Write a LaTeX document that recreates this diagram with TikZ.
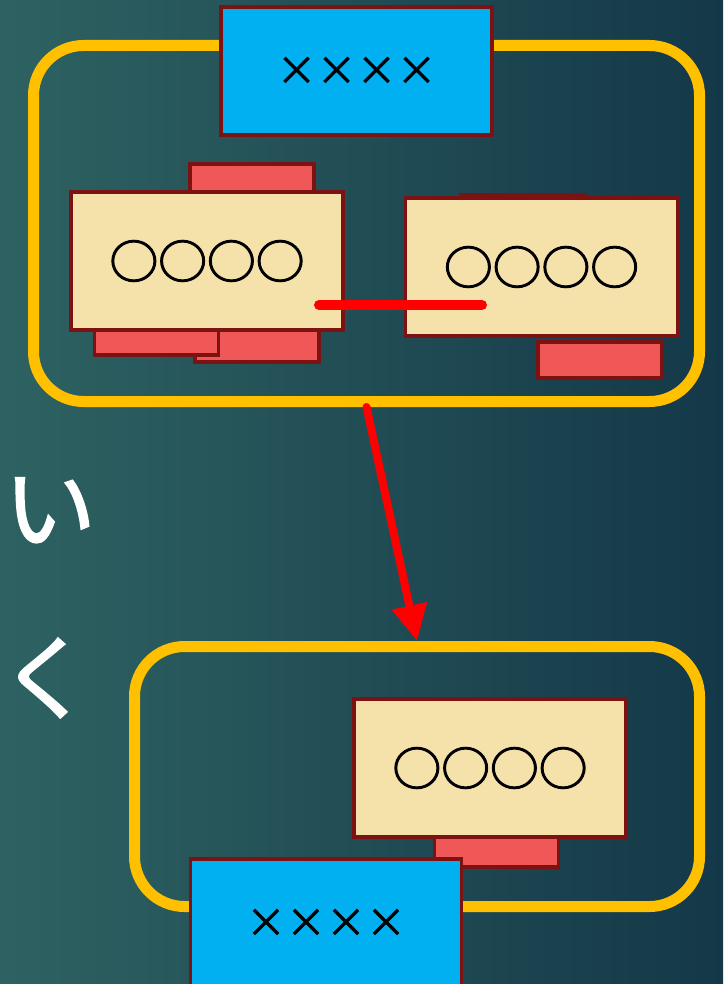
\documentclass[tikz,border=0pt]{standalone}
\usepackage{fontspec}
\newfontfamily\jpfont{Noto Sans CJK JP}
\newfontfamily\jpround[FakeBold=2.5,FakeStretch=1.06]{Noto Sans CJK JP}
\newfontfamily\jpcross[FakeBold=1.2]{Noto Sans CJK JP}
\newfontfamily\jpkana[FakeBold=1.8]{Noto Sans CJK JP}
\usetikzlibrary{arrows.meta}

\definecolor{bgleft}{RGB}{46,98,98}
\definecolor{bgright}{RGB}{20,56,72}
\definecolor{frameyellow}{RGB}{255,192,0}
\definecolor{boxedge}{RGB}{125,18,18}
\definecolor{lidblue}{RGB}{0,176,240}
\definecolor{cardbeige}{RGB}{245,225,170}
\definecolor{tabred}{RGB}{240,88,88}

\begin{document}
\begin{tikzpicture}[>={Triangle[length=36pt,width=34pt]}, x=1pt, y=-1pt]

		\tikzstyle{frame}=[draw=frameyellow, line width=11pt, rounded corners=50pt, inner sep=0pt]
		\tikzstyle{lid}=[draw=boxedge, line width=3.5pt, fill=lidblue, inner sep=0pt,
		minimum width=271pt, minimum height=128pt, font=\jpcross\fontsize{40pt}{40pt}\selectfont]
		\tikzstyle{card}=[draw=boxedge, line width=3.5pt, fill=cardbeige, inner sep=0pt,
		minimum width=272pt, minimum height=138pt, font=\jpround\fontsize{46pt}{46pt}\selectfont]
		\tikzstyle{tab}=[draw=boxedge, line width=3.5pt, fill=tabred, inner sep=0pt,
		minimum width=124pt, minimum height=36pt]
		\tikzstyle{kana}=[anchor=base, text=white, inner sep=0pt, font=\jpkana\fontsize{92pt}{92pt}\selectfont]

		% Background
		\shade[left color=bgleft, right color=bgright] (0,0) rectangle (723,984);
		\useasboundingbox (0,0) rectangle (723,984);

		% Frames
		\node[frame, minimum width=666pt, minimum height=356pt] (upper) at (366.5,223.5) {};
		\node[frame, minimum width=565pt, minimum height=260pt] (lower) at (417,776.5) {};

		% Tabs behind the cards
		\node[tab] (t1) at (252,182) {};
		\node[tab] (t2) at (257,344) {};
		\node[tab] (t3) at (156.5,337) {};
		\node[tab] (t4) at (523,213) {};
		\node[tab] (t5) at (600,360) {};
		\node[tab] (t6) at (496.5,849) {};

		% Cards
		\node[card] (c1) at (207,261) {\raisebox{3pt}{○○○○}};
		\node[card] (c2) at (541.5,267) {\raisebox{3pt}{○○○○}};
		\node[card] (c3) at (490,768) {\raisebox{3pt}{○○○○}};

		% Lids
		\node[lid] (l1) at (356.5,71) {××××};
		\node[lid] (l2) at (326,923) {××××};

		% Side text
		\node[kana] (ki) at (50,542) {い};
		\node[kana] (ku) at (46,712) {く};

		% Link between the cards
		\coordinate (la) at (319,305);
		\coordinate (lb) at (482,305);
		\draw[red, line width=10pt, line cap=round] (la) -- (lb);

		% Flow arrow
		\draw[->, red, line width=8pt, line cap=round] (upper.south) -- (lower.north);

\end{tikzpicture}
\end{document}
